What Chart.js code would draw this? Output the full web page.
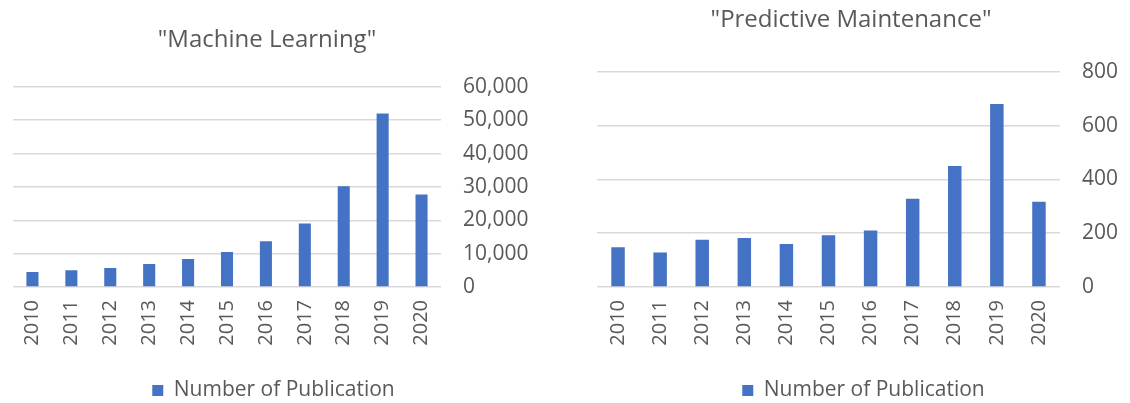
<!DOCTYPE html>
<html>
<head>
<meta charset="utf-8">
<script src="https://cdn.jsdelivr.net/npm/chart.js@4"></script>
<style>
  body { margin: 0; background: #fff; }
  .wrap { position: absolute; top: 0; height: 403px; }
</style>
</head>
<body>
<div class="wrap" style="left:0;width:534px"><canvas id="mlChart" width="534" height="403"></canvas></div>
<div class="wrap" style="left:572px;width:558px"><canvas id="pmChart" width="558" height="403"></canvas></div>
<script>
// data
const years = ['2010', '2011', '2012', '2013', '2014', '2015', '2016', '2017', '2018', '2019', '2020'];
const mlPublications = [4500, 5000, 5700, 6900, 8400, 10500, 13700, 19000, 30200, 52000, 27700];
const pmPublications = [148, 128, 176, 182, 160, 192, 210, 328, 450, 680, 317];
const seriesName = 'Number of Publication';

const textColor = '#595959';
const barColor = '#4472c4';
const gridColor = '#d9d9d9';
const fontName = "'Open Sans', sans-serif";

// center the title on the whole canvas, not on the padded area
const titleFullWidth = {
  id: 'titleFullWidth',
  afterLayout(chart) {
    chart.titleBlock.left = 0;
    chart.titleBlock.right = chart.width;
  }
};

function makeConfig(title, values, yMax, yStep, opts) {
  return {
    type: 'bar',
    data: {
      labels: years,
      datasets: [{
        label: seriesName,
        data: values,
        backgroundColor: barColor,
        barPercentage: opts.barPct,
        categoryPercentage: 1
      }]
    },
    plugins: [titleFullWidth],
    options: {
      responsive: false,
      animation: false,
      devicePixelRatio: 1,
      layout: { padding: opts.padding },
      plugins: {
        title: {
          display: true,
          text: title,
          color: textColor,
          font: { family: fontName, size: 24, weight: 'normal' },
          padding: opts.titlePad
        },
        legend: {
          position: 'bottom',
          labels: {
            color: textColor,
            font: { family: fontName, size: 21 },
            boxWidth: 11,
            boxHeight: 11,
            padding: 2
          }
        },
        tooltip: { enabled: false }
      },
      scales: {
        x: {
          grid: { display: false },
          border: { display: false },
          ticks: {
            color: textColor,
            font: { family: fontName, size: 20 },
            minRotation: 90,
            maxRotation: 90,
            padding: 5
          },
          // fixed room for the rotated year labels
          afterFit: (axis) => { axis.height = opts.xAxisHeight; }
        },
        y: {
          position: 'right',
          min: 0,
          max: yMax,
          grid: { color: gridColor, lineWidth: 1.5, drawTicks: false },
          border: { display: false },
          ticks: {
            stepSize: yStep,
            color: textColor,
            font: { family: fontName, size: 21 },
            padding: 22,
            callback: (v) => v.toLocaleString('en-US')
          },
          afterFit: (axis) => { axis.width = opts.yAxisWidth; }
        }
      }
    }
  };
}

new Chart(document.getElementById('mlChart'),
  makeConfig('"Machine Learning"', mlPublications, 60000, 10000, {
    barPct: 0.31,
    padding: { left: 13, right: 0, top: 0, bottom: -8 },
    titlePad: { top: 26, bottom: 32 },
    xAxisHeight: 91,
    yAxisWidth: 93
  }));

new Chart(document.getElementById('pmChart'),
  makeConfig('"Predictive Maintenance"', pmPublications, 800, 200, {
    barPct: 0.32,
    padding: { left: 25, right: 0, top: 0, bottom: -8 },
    titlePad: { top: 6, bottom: 37 },
    xAxisHeight: 91,
    yAxisWidth: 70
  }));
</script>
</body>
</html>
